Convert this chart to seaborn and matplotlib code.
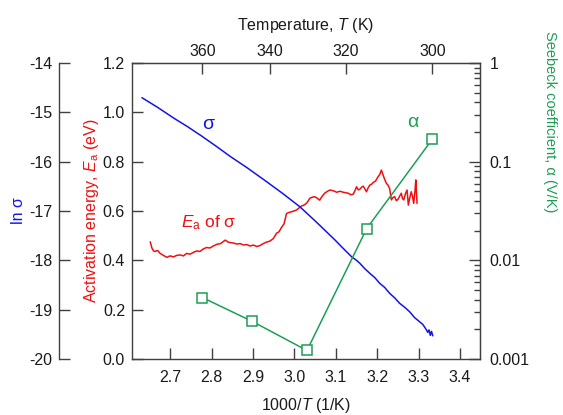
import numpy as np
import pandas as pd
import matplotlib
matplotlib.use("Agg")
import matplotlib.pyplot as plt
import matplotlib.ticker as mticker
import seaborn as sns

# ---------------- data ----------------
# ln(sigma) vs 1000/T
sig_x = [2.632, 2.670, 2.708, 2.742, 2.776, 2.810, 2.845, 2.887, 2.929, 2.971,
         3.013, 3.055, 3.098, 3.118, 3.138, 3.150, 3.158, 3.170, 3.182, 3.194,
         3.206, 3.218, 3.230, 3.242, 3.254, 3.266, 3.278, 3.290, 3.302, 3.310,
         3.318, 3.322, 3.325, 3.328, 3.331, 3.334]
sig_y = [-14.703, -14.90, -15.113, -15.29, -15.480, -15.68, -15.893, -16.13, -16.382, -16.64,
         -16.913, -17.24, -17.588, -17.76, -17.927, -18.00, -18.060, -18.17, -18.263, -18.35,
         -18.466, -18.55, -18.669, -18.76, -18.871, -18.95, -19.041, -19.16, -19.244, -19.30,
         -19.40, -19.46, -19.41, -19.52, -19.44, -19.53]

# Activation energy of sigma vs 1000/T
ea_x = [2.652, 2.656, 2.660, 2.664, 2.670, 2.676, 2.684, 2.692, 2.700, 2.708,
        2.716, 2.724, 2.732, 2.740, 2.748, 2.756, 2.764, 2.772, 2.780, 2.788,
        2.796, 2.804, 2.813, 2.822, 2.833, 2.840, 2.845, 2.853, 2.861, 2.869,
        2.877, 2.885, 2.893, 2.901, 2.909, 2.917, 2.925, 2.933, 2.941, 2.949,
        2.957, 2.963, 2.969, 2.975, 2.981, 2.987, 2.993, 2.999, 3.005, 3.011,
        3.017, 3.023, 3.029, 3.033, 3.037, 3.043, 3.049, 3.055, 3.061, 3.067,
        3.073, 3.080, 3.086, 3.094, 3.102, 3.110, 3.118, 3.124, 3.130, 3.136,
        3.142, 3.146, 3.150, 3.154, 3.158, 3.162, 3.166, 3.170, 3.174, 3.178,
        3.182, 3.186, 3.190, 3.196, 3.202, 3.206, 3.210, 3.214, 3.218, 3.222,
        3.226, 3.230, 3.234, 3.238, 3.242, 3.246, 3.250, 3.254, 3.258, 3.261,
        3.264, 3.268, 3.272, 3.275, 3.278, 3.282, 3.285, 3.288, 3.291, 3.293,
        3.296]
ea_y = [0.475, 0.450, 0.438, 0.436, 0.440, 0.428, 0.420, 0.412, 0.418, 0.414,
        0.420, 0.422, 0.418, 0.428, 0.425, 0.432, 0.438, 0.436, 0.446, 0.452,
        0.450, 0.458, 0.465, 0.468, 0.482, 0.474, 0.472, 0.470, 0.466, 0.468,
        0.462, 0.464, 0.458, 0.462, 0.456, 0.460, 0.468, 0.474, 0.478, 0.488,
        0.510, 0.516, 0.534, 0.548, 0.590, 0.594, 0.597, 0.600, 0.604, 0.612,
        0.620, 0.624, 0.631, 0.640, 0.651, 0.656, 0.658, 0.652, 0.644, 0.660,
        0.672, 0.680, 0.685, 0.682, 0.676, 0.680, 0.676, 0.674, 0.672, 0.666,
        0.668, 0.682, 0.698, 0.686, 0.688, 0.696, 0.701, 0.690, 0.678, 0.694,
        0.705, 0.708, 0.715, 0.722, 0.739, 0.748, 0.766, 0.746, 0.728, 0.712,
        0.705, 0.690, 0.645, 0.655, 0.658, 0.642, 0.647, 0.660, 0.672, 0.650,
        0.645, 0.670, 0.685, 0.624, 0.650, 0.678, 0.660, 0.631, 0.680, 0.726,
        0.631]

# Seebeck coefficient
alpha_T = [360, 345, 330, 315, 300]
alpha_v = [0.0042, 0.0024, 0.00122, 0.021, 0.17]

x_ticks = [2.7, 2.8, 2.9, 3.0, 3.1, 3.2, 3.3, 3.4]
top_ticks = [360, 340, 320, 300]
ea_ticks = [0.0, 0.2, 0.4, 0.6, 0.8, 1.0, 1.2]
lns_ticks = [-20, -19, -18, -17, -16, -15, -14]
alpha_ticks = [0.001, 0.01, 0.1, 1]

# ---------------- style ----------------
sns.set_style("ticks")
plt.rcParams["font.family"] = ["Liberation Sans", "DejaVu Sans"]
plt.rcParams["mathtext.fontset"] = "custom"
plt.rcParams["mathtext.rm"] = "Liberation Sans"
plt.rcParams["mathtext.it"] = "Liberation Sans:italic"
plt.rcParams["axes.unicode_minus"] = False

BLUE = "#1414e6"
RED = "#ee1010"
GREEN = "#1e9e55"
SPINE = "#404040"
TXT = "#1a1a1a"
FS = 11.5

W, H = 563, 415
fig = plt.figure(figsize=(W / 100, H / 100), dpi=100)
L, R, T, B = 132, 480, 63, 359
ax = fig.add_axes([L / W, 1 - B / H, (R - L) / W, (B - T) / H])

def style_ticks(a, pad=5, **kw):
    a.tick_params(direction="in", length=8, width=1, color=SPINE,
                  labelsize=FS, labelcolor=TXT, pad=pad, **kw)

# Ea axis (main)
df_ea = pd.DataFrame({"x": ea_x, "y": ea_y})
sns.lineplot(data=df_ea, x="x", y="y", ax=ax, color=RED, lw=1.1,
             estimator=None, sort=False)
ax.set_xlim(2.608, 3.448)
ax.set_ylim(0, 1.2)
ax.set_xticks(x_ticks)
ax.set_yticks(ea_ticks)
ax.xaxis.set_major_formatter(mticker.FormatStrFormatter("%.1f"))
ax.yaxis.set_major_formatter(mticker.FormatStrFormatter("%.1f"))
style_ticks(ax)
ax.tick_params(axis="x", pad=8)
for s in ax.spines.values():
    s.set_color(SPINE)
    s.set_linewidth(1)
ax.set_xlabel("1000/$\\mathit{T}$ (1/K)", fontsize=FS, color=TXT, labelpad=8)
ax.set_ylabel("Activation energy, $\\mathit{E}_\\mathrm{a}$ (eV)", fontsize=FS,
              color=RED)
ax.yaxis.set_label_coords((101 - L) / (R - L), 0.5)

# ln sigma axis (outer left)
ax_s = ax.twinx()
df_s = pd.DataFrame({"x": sig_x, "y": sig_y})
sns.lineplot(data=df_s, x="x", y="y", ax=ax_s, color=BLUE, lw=1.1,
             estimator=None, sort=False)
ax_s.set_ylim(-20, -14)
ax_s.set_yticks(lns_ticks)
ax_s.yaxis.set_ticks_position("left")
ax_s.yaxis.set_label_position("left")
ax_s.spines["left"].set_position(("axes", (59 - L) / (R - L)))
for k in ["right", "top", "bottom"]:
    ax_s.spines[k].set_visible(False)
ax_s.spines["left"].set_color(SPINE)
ax_s.spines["left"].set_linewidth(1)
style_ticks(ax_s)
ax_s.set_xlabel("")
ax_s.set_ylabel("ln σ", fontsize=FS, color=BLUE)
ax_s.yaxis.set_label_coords((26 - L) / (R - L), 0.5)

# Seebeck axis (right, log)
ax_a = ax.twinx()
ax_a.set_yscale("log")
df_a = pd.DataFrame({"x": [1000.0 / t for t in alpha_T], "y": alpha_v})
sns.lineplot(data=df_a, x="x", y="y", ax=ax_a, color=GREEN, lw=1.1,
             marker="s", markersize=7.5, markerfacecolor="white",
             markeredgecolor=GREEN, markeredgewidth=1.1,
             estimator=None, sort=False)
ax_a.set_ylim(0.001, 1)
ax_a.set_yticks(alpha_ticks)
ax_a.yaxis.set_major_formatter(mticker.FuncFormatter(lambda v, p: f"{v:g}"))
ax_a.yaxis.set_minor_locator(mticker.LogLocator(base=10, subs=np.arange(2, 10)))
ax_a.yaxis.set_minor_formatter(mticker.NullFormatter())
style_ticks(ax_a, pad=7)
ax_a.tick_params(which="minor", direction="in", length=4, width=1, color=SPINE)
for k in ["left", "top", "bottom"]:
    ax_a.spines[k].set_visible(False)
ax_a.spines["right"].set_color(SPINE)
ax_a.set_xlabel("")
ax_a.set_ylabel("")
fig.text(550 / W, 1 - 122 / H, "Seebeck coefficient, α (V/K)", rotation=270,
         ha="center", va="center", fontsize=10.5, color=GREEN)

# top temperature axis
top = ax.secondary_xaxis("top", functions=(lambda x: 1000.0 / np.asarray(x, float),
                                           lambda t: 1000.0 / np.asarray(t, float)))
top.set_xticks(top_ticks)
top.xaxis.set_major_formatter(mticker.FormatStrFormatter("%d"))
top.tick_params(direction="in", length=8, width=1, color=SPINE,
                labelsize=FS, labelcolor=TXT, pad=3)
top.spines["top"].set_color(SPINE)
top.set_xlabel("Temperature, $\\mathit{T}$ (K)", fontsize=FS, color=TXT, labelpad=10)

# in-plot labels
ax.text(2.792, 0.949, "σ", color=BLUE, fontsize=14, ha="center", va="center")
ax.text(2.792, 0.551, "$\\mathit{E}_\\mathrm{a}$ of σ", color=RED, fontsize=FS + 1,
        ha="center", va="center")
ax.text(3.286, 0.957, "α", color=GREEN, fontsize=14, ha="center", va="center")

fig.savefig("out.png", dpi=100)
